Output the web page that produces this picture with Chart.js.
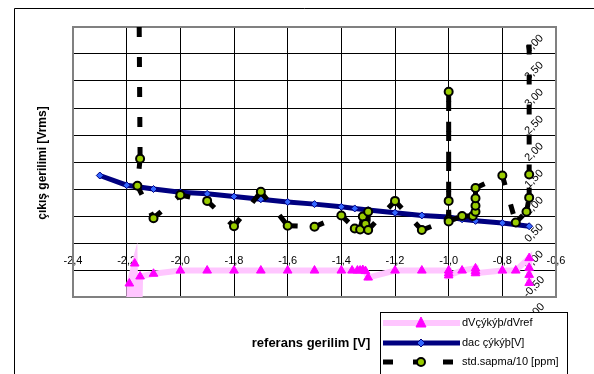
<!DOCTYPE html>
<html>
<head>
<meta charset="utf-8">
<script src="https://cdn.jsdelivr.net/npm/chart.js"></script>
<style>
  html, body { margin: 0; padding: 0; background: #fff; }
</style>
</head>
<body>
<canvas id="chart" width="594" height="374"></canvas>
<script>
// dVçıkış/dVref (pembe üçgenler)
const dvX = [-2.19, -2.19, -2.17, -2.16, -2.15, -2.1, -2.0, -1.9, -1.8, -1.7, -1.6, -1.5, -1.4, -1.36, -1.34, -1.33, -1.32, -1.31, -1.30, -1.2, -1.1, -1.0, -1.0, -1.0, -0.95, -0.9, -0.9, -0.9, -0.8, -0.75, -0.7, -0.7, -0.7, -0.7];
const dvY = [-3.0, -0.75, -0.38, -3.0, -0.62, -0.57, -0.51, -0.51, -0.51, -0.51, -0.51, -0.51, -0.51, -0.51, -0.51, -0.51, -0.50, -0.52, -0.64, -0.51, -0.51, -0.51, -0.56, -0.60, -0.51, -0.47, -0.52, -0.56, -0.51, -0.51, -0.28, -0.46, -0.59, -0.74];

// dac çıkış [V] (lacivert çizgi)
const dacX = [-2.3, -2.2, -2.1, -2.0, -1.9, -1.8, -1.7, -1.6, -1.5, -1.4, -1.35, -1.3, -1.2, -1.1, -1.0, -0.95, -0.9, -0.8, -0.7];
const dacY = [1.25, 1.07, 1.0, 0.94, 0.91, 0.86, 0.81, 0.76, 0.72, 0.67, 0.64, 0.61, 0.56, 0.51, 0.48, 0.44, 0.41, 0.37, 0.31];

// std.sapma/10 [ppm] (yeşil daireler, kesikli çizgi)
const stdX = [-2.16, -2.15, -2.16, -2.1, -2.0, -1.9, -1.8, -1.7, -1.6, -1.5, -1.4, -1.35, -1.33, -1.32, -1.31, -1.3, -1.3, -1.2, -1.1, -1.0, -1.0, -1.0, -1.0, -0.95, -0.91, -0.9, -0.9, -0.9, -0.9, -0.8, -0.75, -0.71, -0.7, -0.7, -0.7];
const stdY = [9, 1.56, 1.06, 0.46, 0.89, 0.78, 0.31, 0.95, 0.32, 0.30, 0.51, 0.27, 0.25, 0.49, 0.35, 0.58, 0.24, 0.78, 0.24, 0.43, 0.78, 2.80, 0.40, 0.50, 0.50, 0.58, 0.69, 0.83, 1.02, 1.25, 0.38, 0.58, 0.84, 1.27, 9];

const seriesNames = ["dVçýkýþ/dVref", "dac çýkýþ[V]", "std.sapma/10 [ppm]"];

// Eksen etiketleri
const xTicks = [-2.4, -2.2, -2.0, -1.8, -1.6, -1.4, -1.2, -1.0, -0.8, -0.6];
const yTicks = [-1.0, -0.5, 0.0, 0.5, 1.0, 1.5, 2.0, 2.5, 3.0, 3.5, 4.0];
const xTitle = "referans gerilim [V]";
const yTitle = "çıkış gerilimi [Vrms]";

const toPoints = (xs, ys) => xs.map((x, i) => ({ x: x, y: ys[i] }));
const comma = (v, d) => v.toFixed(d).replace(".", ",");

Chart.defaults.font.family = "Arial, 'Liberation Sans', sans-serif";
Chart.defaults.color = "#000";

// Marker çizimi (legend için)
function drawMarker(ctx, style, x, y, fill, stroke, lw) {
  ctx.save();
  ctx.fillStyle = fill;
  ctx.strokeStyle = stroke;
  ctx.lineWidth = lw;
  ctx.beginPath();
  if (style === "triangle") {
    ctx.moveTo(x, y - 6);
    ctx.lineTo(x + 5, y + 4);
    ctx.lineTo(x - 5, y + 4);
    ctx.closePath();
  } else if (style === "rectRot") {
    ctx.moveTo(x, y - 4);
    ctx.lineTo(x + 4, y);
    ctx.lineTo(x, y + 4);
    ctx.lineTo(x - 4, y);
    ctx.closePath();
  } else {
    ctx.arc(x, y, 4, 0, Math.PI * 2);
  }
  ctx.fill();
  if (lw > 0) ctx.stroke();
  ctx.restore();
}

const excelLook = {
  id: "excelLook",
  beforeDraw(chart) {
    const ctx = chart.ctx;
    ctx.save();
    ctx.fillStyle = "#fff";
    ctx.fillRect(0, 0, chart.width, chart.height);
    ctx.strokeStyle = "#000";
    ctx.lineWidth = 1;
    ctx.beginPath();
    ctx.moveTo(14.5, chart.height);
    ctx.lineTo(14.5, 8.5);
    ctx.lineTo(chart.width, 8.5);
    ctx.stroke();
    ctx.restore();
  },
  beforeDatasetsDraw(chart) {
    const ctx = chart.ctx;
    const a = chart.chartArea;
    const xs = chart.scales.x;
    const ys = chart.scales.y;
    ctx.save();
    ctx.strokeStyle = "#808080";
    ctx.lineWidth = 2;
    ctx.strokeRect(a.left, a.top, a.right - a.left, a.bottom - a.top);
    // sağdaki döndürülmüş etiketler
    ctx.fillStyle = "#000";
    ctx.font = "11px Arial, 'Liberation Sans', sans-serif";
    ctx.textAlign = "center";
    ctx.textBaseline = "middle";
    const lx = xs.getPixelForValue(-0.7) + 5;
    yTicks.forEach((v) => {
      const py = ys.getPixelForValue(v) + 17;
      ctx.save();
      ctx.translate(lx, py);
      ctx.rotate(-Math.PI / 4);
      ctx.fillText(comma(v, 2), 0, 0);
      ctx.restore();
    });
    ctx.restore();
  },
  afterDraw(chart) {
    const ctx = chart.ctx;
    ctx.save();
    ctx.fillStyle = "#000";
    ctx.textBaseline = "middle";
    ctx.textAlign = "center";
    ctx.font = "bold 13px Arial, 'Liberation Sans', sans-serif";
    ctx.fillText(xTitle, 311, 343);
    ctx.save();
    ctx.translate(43, 163);
    ctx.rotate(-Math.PI / 2);
    ctx.font = "bold 12px Arial, 'Liberation Sans', sans-serif";
    ctx.fillText(yTitle, 0, 0);
    ctx.restore();

    // legend kutusu
    ctx.fillStyle = "#fff";
    ctx.fillRect(380.5, 312.5, 187, 80);
    ctx.strokeStyle = "#000";
    ctx.lineWidth = 1;
    ctx.strokeRect(380.5, 312.5, 187, 80);
    const rows = [323, 343, 362];
    chart.data.datasets.forEach((ds, i) => {
      const y = rows[i];
      ctx.save();
      ctx.strokeStyle = ds.borderColor;
      ctx.lineWidth = ds.borderWidth;
      ctx.setLineDash(ds.borderDash || []);
      ctx.beginPath();
      ctx.moveTo(383, y);
      ctx.lineTo(460, y);
      ctx.stroke();
      ctx.restore();
      drawMarker(ctx, ds.pointStyle, 421, y, ds.pointBackgroundColor, ds.pointBorderColor, ds.pointBorderWidth);
      ctx.fillStyle = "#000";
      ctx.textAlign = "left";
      ctx.font = "11px Arial, 'Liberation Sans', sans-serif";
      ctx.fillText(ds.label, 462, y);
    });
    ctx.restore();
  }
};

new Chart(document.getElementById("chart"), {
  type: "scatter",
  data: {
    datasets: [
      {
        label: seriesNames[0],
        data: toPoints(dvX, dvY),
        showLine: true,
        borderColor: "#FFC6FF",
        borderWidth: 6,
        pointStyle: "triangle",
        pointRadius: 5,
        pointBackgroundColor: "#FF00FF",
        pointBorderColor: "#FF00FF",
        pointBorderWidth: 1,
        order: 3,
      },
      {
        label: seriesNames[1],
        data: toPoints(dacX, dacY),
        showLine: true,
        borderColor: "#000080",
        borderWidth: 5,
        pointStyle: "rectRot",
        pointRadius: 3.5,
        pointBackgroundColor: "#3366FF",
        pointBorderColor: "#000080",
        pointBorderWidth: 1,
        order: 2,
      },
      {
        label: seriesNames[2],
        data: toPoints(stdX, stdY),
        showLine: true,
        borderColor: "#000",
        borderWidth: 5,
        borderDash: [10, 20],
        // Excel gibi: kesik çizgi deseni her noktada yeniden başlasın
        segment: {
          borderDashOffset: (c) => (c.p0DataIndex % 2) * 0.01,
        },
        pointStyle: "circle",
        pointRadius: 4,
        pointBackgroundColor: "#99CC00",
        pointBorderColor: "#000",
        pointBorderWidth: 2,
        order: 1,
      },
    ],
  },
  options: {
    responsive: false,
    animation: false,
    layout: { padding: { left: 73, top: 27, right: 38, bottom: 77 } },
    plugins: {
      legend: { display: false },
      tooltip: { enabled: false },
    },
    scales: {
      x: {
        type: "linear",
        position: { y: 0 },
        min: xTicks[0],
        max: xTicks[xTicks.length - 1],
        afterBuildTicks: (scale) => {
          scale.ticks = xTicks.map((v) => ({ value: v }));
        },
        grid: { color: "#000", lineWidth: 1, tickLength: 5 },
        border: { color: "#000", width: 1 },
        ticks: {
          padding: 6,
          maxRotation: 0,
          font: { size: 11 },
          callback: (v) => comma(v, 1),
        },
      },
      y: {
        type: "linear",
        min: yTicks[0],
        max: yTicks[yTicks.length - 1],
        afterBuildTicks: (scale) => {
          scale.ticks = yTicks.map((v) => ({ value: v }));
        },
        grid: { color: "#000", lineWidth: 1, drawTicks: false },
        border: { display: false },
        ticks: { display: false },
      },
    },
  },
  plugins: [excelLook],
});
</script>
</body>
</html>
